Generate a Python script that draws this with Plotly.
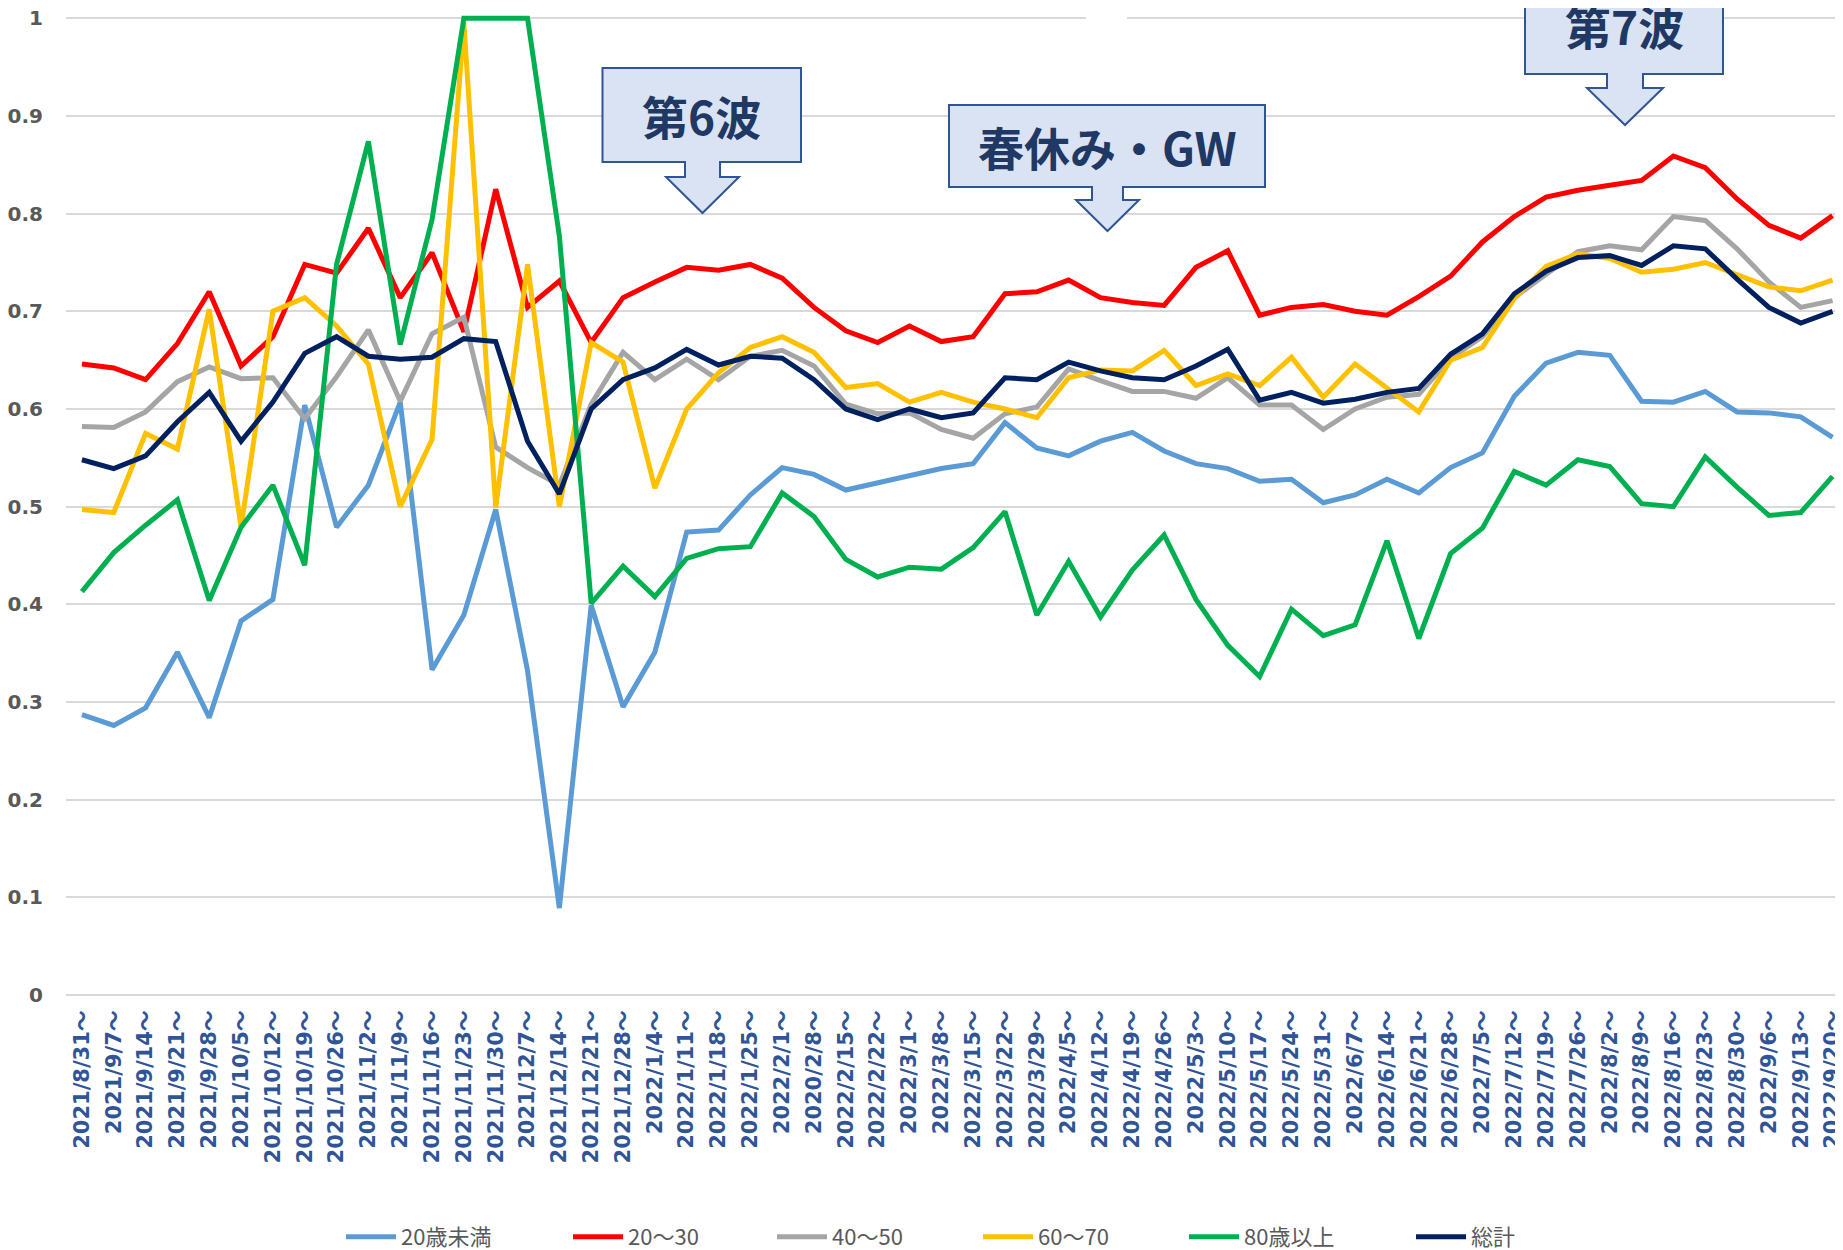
import plotly.graph_objects as go

# ---------------- data ----------------
dates = [
    "2021/8/31", "2021/9/7", "2021/9/14", "2021/9/21", "2021/9/28", "2021/10/5",
    "2021/10/12", "2021/10/19", "2021/10/26", "2021/11/2", "2021/11/9", "2021/11/16",
    "2021/11/23", "2021/11/30", "2021/12/7", "2021/12/14", "2021/12/21", "2021/12/28",
    "2022/1/4", "2022/1/11", "2022/1/18", "2022/1/25", "2022/2/1", "2020/2/8",
    "2022/2/15", "2022/2/22", "2022/3/1", "2022/3/8", "2022/3/15", "2022/3/22",
    "2022/3/29", "2022/4/5", "2022/4/12", "2022/4/19", "2022/4/26", "2022/5/3",
    "2022/5/10", "2022/5/17", "2022/5/24", "2022/5/31", "2022/6/7", "2022/6/14",
    "2022/6/21", "2022/6/28", "2022/7/5", "2022/7/12", "2022/7/19", "2022/7/26",
    "2022/8/2", "2022/8/9", "2022/8/16", "2022/8/23", "2022/8/30", "2022/9/6",
    "2022/9/13", "2022/9/20",
]
categories = [d + "～" for d in dates]

under20 = [0.287, 0.276, 0.294, 0.351, 0.284, 0.383, 0.405, 0.604, 0.479, 0.522,
           0.607, 0.333, 0.389, 0.497, 0.332, 0.089, 0.399, 0.295, 0.351, 0.474,
           0.476, 0.512, 0.540, 0.533, 0.517, 0.524, 0.531, 0.539, 0.544, 0.586,
           0.560, 0.552, 0.567, 0.576, 0.557, 0.544, 0.539, 0.526, 0.528, 0.504,
           0.512, 0.528, 0.514, 0.540, 0.555, 0.613, 0.647, 0.658, 0.655, 0.608,
           0.607, 0.618, 0.597, 0.596, 0.592, 0.571]
age20_30 = [0.646, 0.642, 0.630, 0.667, 0.720, 0.644, 0.674, 0.748, 0.739, 0.785,
            0.714, 0.760, 0.679, 0.825, 0.704, 0.731, 0.668, 0.714, 0.730, 0.745,
            0.742, 0.748, 0.734, 0.704, 0.680, 0.668, 0.685, 0.669, 0.674, 0.718,
            0.720, 0.732, 0.714, 0.709, 0.706, 0.745, 0.762, 0.696, 0.704, 0.707,
            0.700, 0.696, 0.715, 0.736, 0.771, 0.797, 0.817, 0.824, 0.829, 0.834,
            0.859, 0.847, 0.815, 0.788, 0.775, 0.798]
age40_50 = [0.582, 0.581, 0.597, 0.628, 0.643, 0.631, 0.632, 0.590, 0.633, 0.681,
            0.608, 0.677, 0.694, 0.561, 0.540, 0.522, 0.605, 0.658, 0.630, 0.651,
            0.630, 0.654, 0.660, 0.644, 0.605, 0.595, 0.596, 0.579, 0.570, 0.595,
            0.602, 0.641, 0.629, 0.618, 0.618, 0.611, 0.632, 0.604, 0.604, 0.579,
            0.600, 0.612, 0.615, 0.652, 0.674, 0.714, 0.738, 0.761, 0.767, 0.763,
            0.797, 0.793, 0.764, 0.730, 0.704, 0.711]
age60_70 = [0.497, 0.494, 0.575, 0.559, 0.702, 0.479, 0.700, 0.714, 0.685, 0.646,
            0.500, 0.569, 0.995, 0.499, 0.748, 0.500, 0.668, 0.648, 0.519, 0.600,
            0.637, 0.663, 0.674, 0.658, 0.622, 0.626, 0.607, 0.617, 0.607, 0.600,
            0.591, 0.632, 0.640, 0.639, 0.660, 0.624, 0.636, 0.624, 0.653, 0.612,
            0.646, 0.622, 0.597, 0.650, 0.663, 0.713, 0.746, 0.759, 0.754, 0.740,
            0.743, 0.750, 0.737, 0.725, 0.721, 0.732]
over80 = [0.413, 0.453, 0.481, 0.507, 0.404, 0.479, 0.522, 0.440, 0.748, 0.874,
          0.666, 0.794, 1.000, 1.000, 1.000, 0.777, 0.401, 0.439, 0.408, 0.447,
          0.457, 0.459, 0.514, 0.490, 0.446, 0.428, 0.438, 0.436, 0.458, 0.495,
          0.389, 0.444, 0.387, 0.435, 0.471, 0.405, 0.358, 0.326, 0.395, 0.368,
          0.379, 0.465, 0.365, 0.452, 0.478, 0.536, 0.522, 0.548, 0.541, 0.503,
          0.500, 0.551, 0.520, 0.491, 0.494, 0.531]
total = [0.548, 0.539, 0.552, 0.587, 0.617, 0.567, 0.607, 0.657, 0.674, 0.654,
         0.651, 0.653, 0.672, 0.669, 0.567, 0.513, 0.600, 0.630, 0.642, 0.661,
         0.645, 0.654, 0.652, 0.630, 0.600, 0.589, 0.600, 0.591, 0.596, 0.632,
         0.630, 0.648, 0.639, 0.632, 0.630, 0.644, 0.661, 0.609, 0.617, 0.606,
         0.610, 0.617, 0.621, 0.656, 0.677, 0.718, 0.741, 0.755, 0.757, 0.747,
         0.767, 0.764, 0.733, 0.704, 0.688, 0.700]

series_names = ["20歳未満", "20～30", "40～50", "60～70", "80歳以上", "総計"]
series_values = [under20, age20_30, age40_50, age60_70, over80, total]
series_colors = ["#5B9BD5", "#FF0000", "#A5A5A5", "#FFC000", "#00B050", "#002060"]

y_ticks = [0, 0.1, 0.2, 0.3, 0.4, 0.5, 0.6, 0.7, 0.8, 0.9, 1]
y_tick_text = ["0", "0.1", "0.2", "0.3", "0.4", "0.5", "0.6", "0.7", "0.8", "0.9", "1"]

callout_texts = ["第6波", "春休み・GW", "第7波"]

# ---------------- layout geometry (pixels) ----------------
# The page body adds an 8px offset, so the figure is made 8px smaller and
# positions below are given in screen pixels, then converted.
OFF = 8
W, H = 1843 - OFF, 1250 - OFF
ML, MR, MT, MB = 66 - OFF, 0, 1, 255
PW = W - ML - MR
PH = H - MT - MB
Y_TOP = 1 + (18.3 - (MT + OFF)) / 976.7


def px(x):
    return (x - OFF - ML) / PW


def py(y):
    return (H - MB - (y - OFF)) / PH


fig = go.Figure()

legend_x_px = [341, 568, 772, 978, 1184, 1411]
for k, (name, vals, col) in enumerate(zip(series_names, series_values, series_colors)):
    lg = "legend" if k == 0 else f"legend{k + 1}"
    fig.add_trace(go.Scatter(
        x=categories, y=vals, name=name, mode="lines",
        line=dict(color=col, width=5),
        legend=lg, hoverinfo="skip",
    ))

legend_common = dict(
    orientation="h", xanchor="left", yanchor="middle",
    font=dict(family="Noto Sans CJK JP", size=22, color="#595959"),
    itemwidth=50, bgcolor="rgba(0,0,0,0)", borderwidth=0,
)
for k, lx in enumerate(legend_x_px):
    key = "legend" if k == 0 else f"legend{k + 1}"
    fig.layout[key] = dict(legend_common, x=px(lx), y=py(1237))

# ---------------- callouts ----------------
callouts = [
    # box x0, x1, y0, y1, stem half width, head y, head half width, tip y, center x
    dict(x0=602.5, x1=801, y0=68, y1=162, sh=17.5, hy=177, hh=36.5, ty=213, cx=702.5),
    dict(x0=949, x1=1265, y0=105, y1=187, sh=15.5, hy=200, hh=31.5, ty=231, cx=1107.5),
    dict(x0=1525, x1=1723, y0=-24, y1=74, sh=18, hy=88, hh=38, ty=125, cx=1625),
]
shapes = []
annotations = []
for c, txt in zip(callouts, callout_texts):
    pts = [
        (c["x0"], c["y0"]), (c["x1"], c["y0"]), (c["x1"], c["y1"]),
        (c["cx"] + c["sh"], c["y1"]), (c["cx"] + c["sh"], c["hy"]),
        (c["cx"] + c["hh"], c["hy"]), (c["cx"], c["ty"]),
        (c["cx"] - c["hh"], c["hy"]), (c["cx"] - c["sh"], c["hy"]),
        (c["cx"] - c["sh"], c["y1"]), (c["x0"], c["y1"]),
    ]
    path = "M " + " L ".join(f"{px(a):.5f},{py(b):.5f}" for a, b in pts) + " Z"
    shapes.append(dict(type="path", path=path, xref="paper", yref="paper",
                       fillcolor="#DAE3F3", line=dict(color="#2F5597", width=2),
                       layer="above"))
    annotations.append(dict(
        text=txt, xref="paper", yref="paper",
        x=px((c["x0"] + c["x1"]) / 2), y=py((c["y0"] + c["y1"]) / 2),
        xanchor="center", yanchor="middle", showarrow=False,
        font=dict(family="Noto Sans CJK JP", size=46, color="#1F3864", weight="bold"),
    ))

# small white gap on the top gridline
shapes.append(dict(type="rect", xref="paper", yref="paper",
                   x0=px(1086), x1=px(1127), y0=py(25), y1=py(12),
                   fillcolor="white", line=dict(width=0), layer="above"))

fig.update_layout(
    width=W, height=H,
    margin=dict(l=ML, r=MR, t=MT, b=MB, pad=0, autoexpand=False),
    paper_bgcolor="white", plot_bgcolor="white",
    shapes=shapes, annotations=annotations,
    showlegend=True,
)

fig.update_xaxes(
    type="category", range=[-0.5, -0.5 + PW / 31.83], automargin=False,
    tickangle=-90, showgrid=False, zeroline=False, showline=False, ticks="",
    tickfont=dict(family="DejaVu Sans, Noto Sans CJK JP", size=21, color="#2F5597",
                  weight="bold"),
    ticklabelstandoff=10, ticklabeloverflow="allow",
)
fig.update_yaxes(
    range=[0, Y_TOP], tickvals=y_ticks, ticktext=y_tick_text, automargin=False,
    showgrid=True, gridcolor="#D9D9D9", gridwidth=2,
    zeroline=True, zerolinecolor="#D9D9D9", zerolinewidth=2,
    showline=False, ticks="",
    tickfont=dict(family="DejaVu Sans", size=20, color="#595959", weight="bold"),
    ticklabelstandoff=22, ticklabeloverflow="allow",
)

fig.write_html("out.html")
